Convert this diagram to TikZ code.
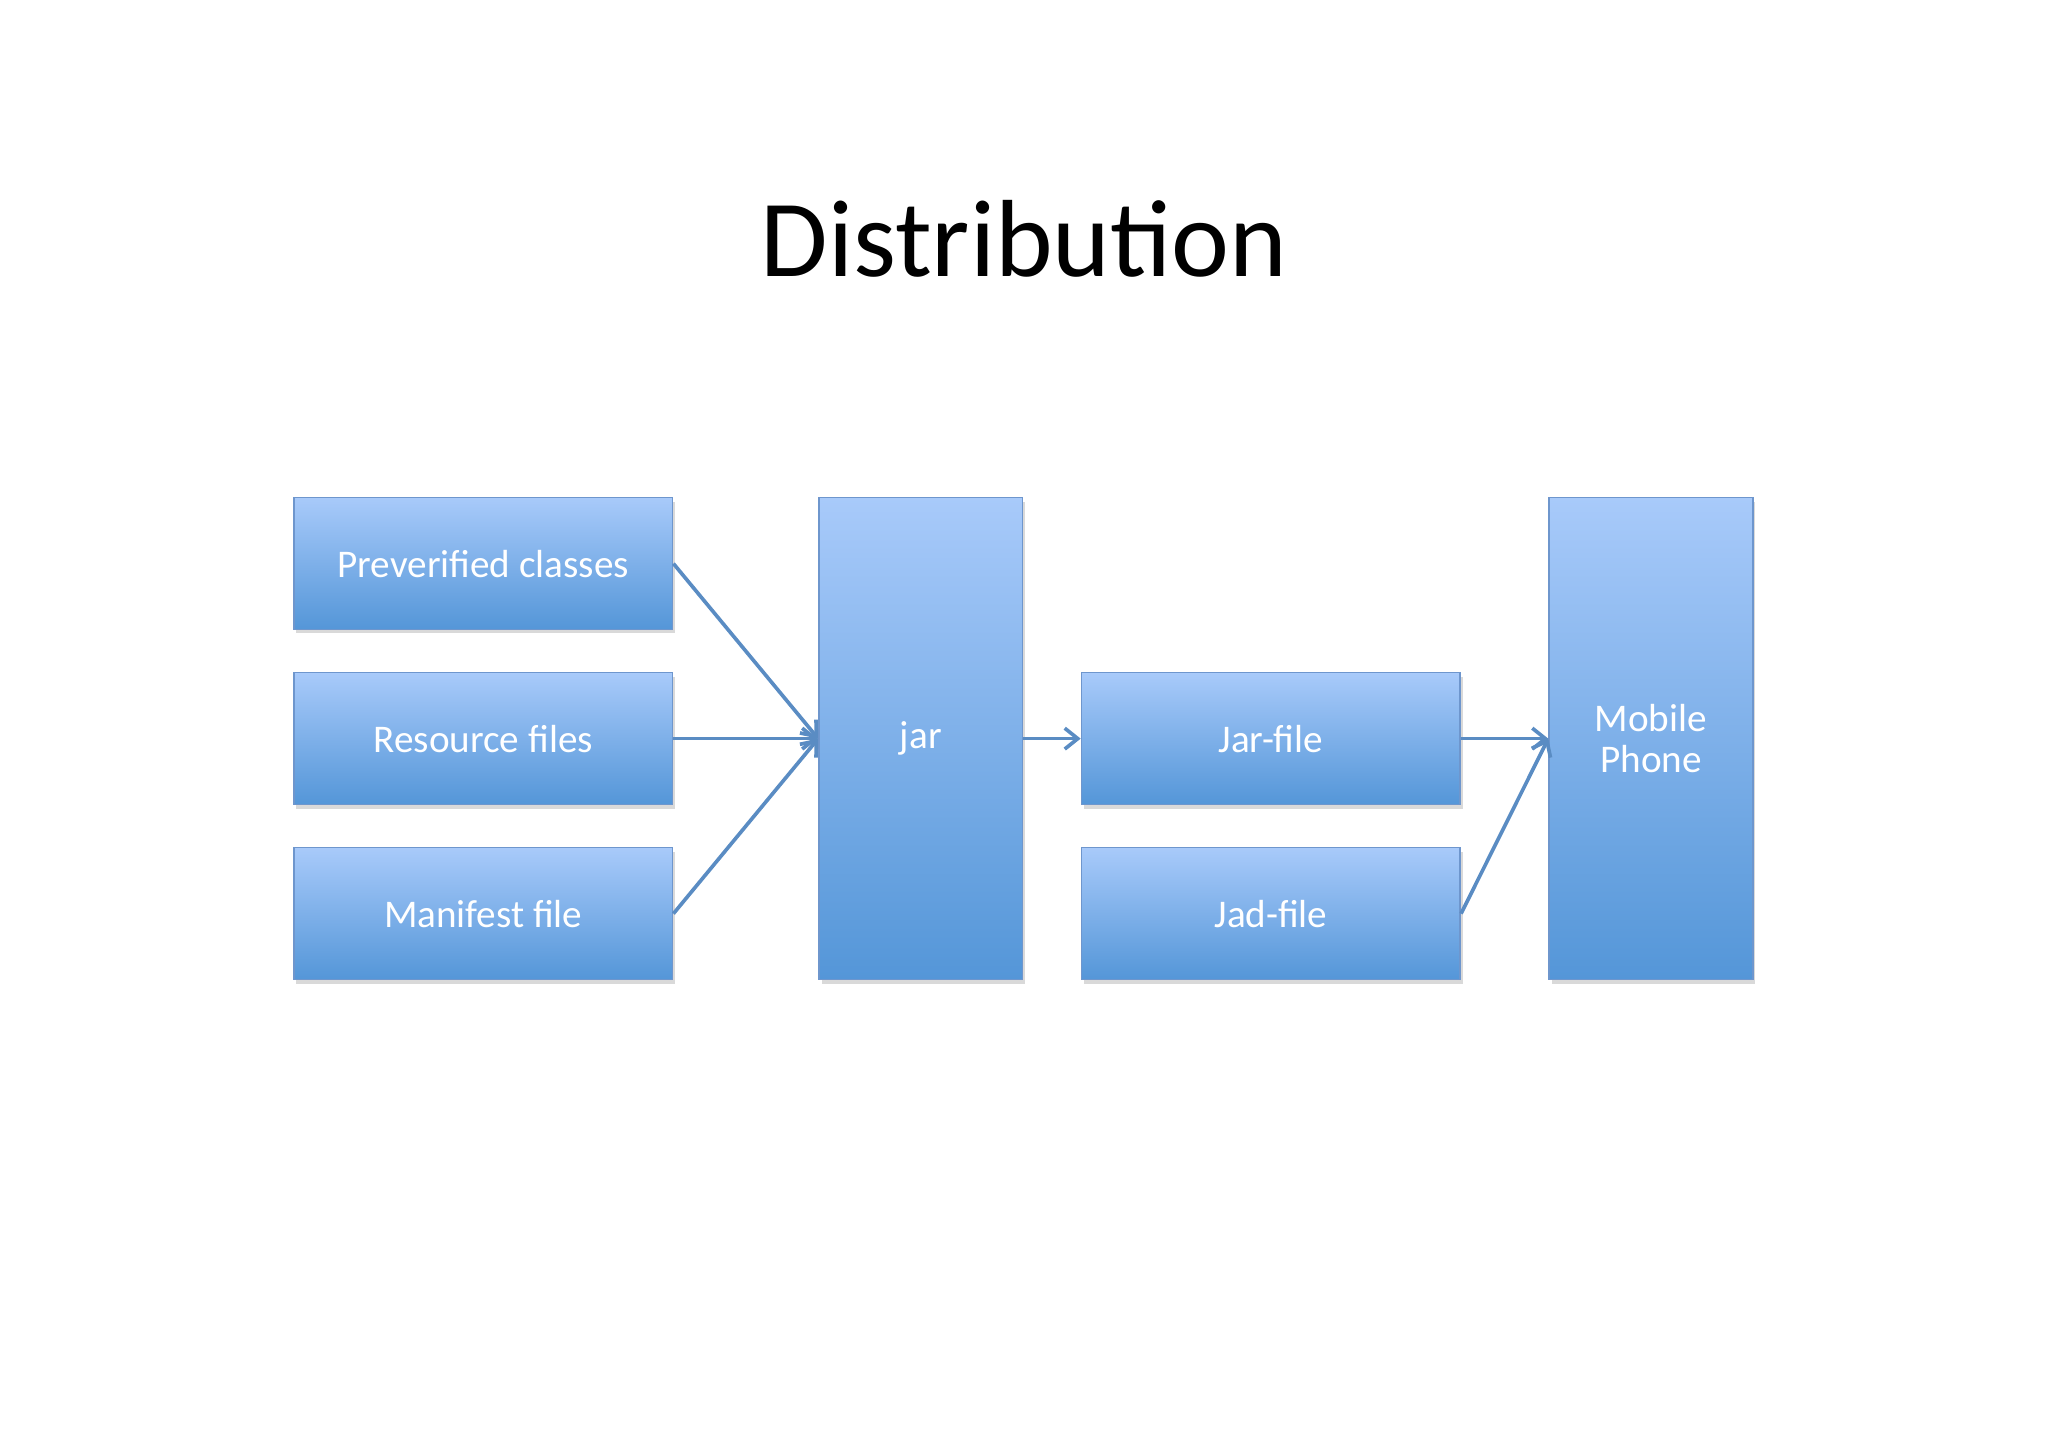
\documentclass[tikz,border=0pt]{standalone}
\usepackage{fontspec}
\setmainfont{Carlito}
\usetikzlibrary{arrows.meta,shadows}
\definecolor{btop}{RGB}{168,202,250}
\definecolor{bbot}{RGB}{84,150,216}
\definecolor{bline}{RGB}{110,150,205}
\definecolor{arr}{RGB}{90,140,195}
\tikzset{
  boxs/.style={draw=bline,line width=0.6pt,top color=btop,bottom color=bbot,
    drop shadow={shadow xshift=1pt,shadow yshift=-1.5pt,opacity=0.3},
    text=white,font=\fontsize{15}{18}\selectfont,align=center,inner sep=0pt},
  conn/.style={draw=arr,line width=1.4pt,-{Straight Barb[length=5pt,width=8pt]}}
}
\begin{document}
\begin{tikzpicture}[x=0.5pt,y=-0.5pt]
\useasboundingbox (0,0) rectangle (1568,1108);
\node[font=\fontsize{42}{50}\selectfont] (title) at (784,183) {Distribution};
\newcommand{\bx}[6]{\node[boxs,minimum width={(#4-#2)*0.5pt},minimum height={(#5-#3)*0.5pt}] (#1) at ({(#2+#4)/2},{(#3+#5)/2}) {#6};}
\bx{pre}{225}{381}{515}{482}{Preverified classes}
\bx{res}{225}{515}{515}{616}{Resource files}
\bx{man}{225}{649}{515}{750}{Manifest file}
\bx{jar}{627}{381}{783}{750}{jar}
\bx{jarf}{828}{515}{1118}{616}{Jar-file}
\bx{jad}{828}{649}{1118}{750}{Jad-file}
\bx{mob}{1186}{381}{1342}{750}{Mobile\\[-2pt]Phone}
\draw[conn] (pre.east) -- (jar.west);
\draw[conn] (res.east) -- (jar.west);
\draw[conn] (man.east) -- (jar.west);
\draw[conn] (jar.east) -- (jarf.west);
\draw[conn] (jarf.east) -- (mob.west);
\draw[conn] (jad.east) -- (mob.west);
\end{tikzpicture}
\end{document}
